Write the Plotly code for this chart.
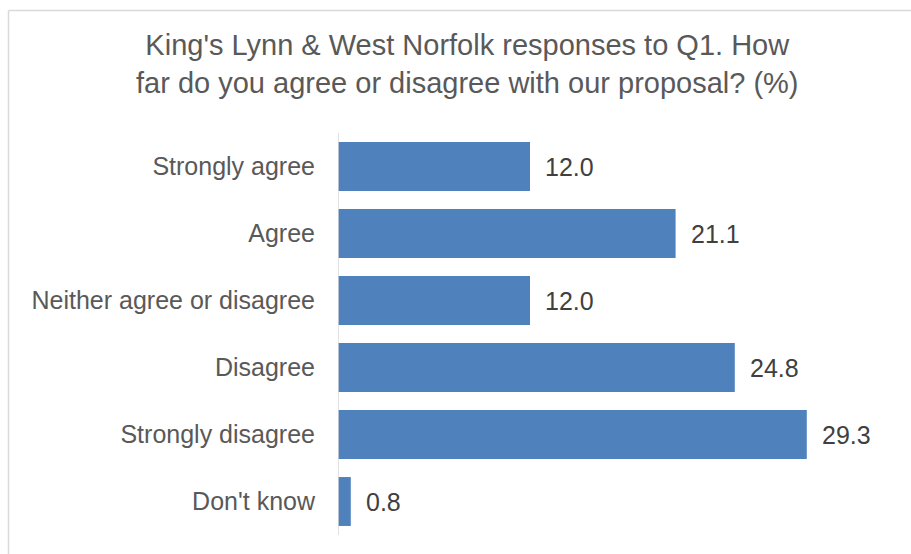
import plotly.graph_objects as go

categories = ["Strongly agree", "Agree", "Neither agree or disagree", "Disagree", "Strongly disagree", "Don't know"]
values = [12.0, 21.1, 12.0, 24.8, 29.3, 0.8]
title_text = "King's Lynn & West Norfolk responses to Q1. How<br>far do you agree or disagree with our proposal? (%)"

W, H = 911, 554
L, R, T, B = 338, 13, 133, 19
xmax = 35.0
FONT = "Liberation Sans, Arial, sans-serif"

fig = go.Figure(go.Bar(
    y=categories, x=values, orientation="h",
    marker=dict(color="#4F81BD", line=dict(width=0)),
    width=0.73,
    hoverinfo="skip",
))

pw = W - L - R
ph = H - T - B
def px_to_paper_x(px):
    return (px - L) / pw
def py_to_paper_y(py):
    return (H - B - py) / ph

annotations = []
for c, v in zip(categories, values):
    annotations.append(dict(x=v, y=c, xref="x", yref="y", text=f"{v:.1f}",
                            showarrow=False, xanchor="left", yanchor="middle",
                            xshift=13, font=dict(family=FONT, size=25, color="#404040")))

annotations.append(dict(x=px_to_paper_x(467), y=py_to_paper_y(27), xref="paper", yref="paper",
                        text=title_text, showarrow=False, xanchor="center", yanchor="top",
                        align="center", font=dict(family=FONT, size=29, color="#595959")))

shapes = [
    dict(type="line", xref="paper", yref="paper",
         x0=px_to_paper_x(8.5), x1=px_to_paper_x(8.5), y0=py_to_paper_y(10.5), y1=py_to_paper_y(560),
         line=dict(color="#D9D9D9", width=1.5)),
    dict(type="line", xref="paper", yref="paper",
         x0=px_to_paper_x(8.5), x1=px_to_paper_x(920), y0=py_to_paper_y(10.5), y1=py_to_paper_y(10.5),
         line=dict(color="#D9D9D9", width=1.5)),
    dict(type="line", xref="x", yref="paper", x0=0, x1=0, y0=0, y1=1,
         line=dict(color="#D9D9D9", width=1.5)),
]

fig.update_layout(
    width=W, height=H,
    margin=dict(l=L, r=R, t=T, b=B, autoexpand=False),
    paper_bgcolor="white", plot_bgcolor="white",
    showlegend=False,
    xaxis=dict(range=[0, xmax], visible=False, fixedrange=True),
    yaxis=dict(autorange="reversed", showgrid=False, zeroline=False,
               showline=False, ticks="", ticklabelstandoff=22,
               tickfont=dict(family=FONT, size=25, color="#595959")),
    annotations=annotations,
    shapes=shapes,
    bargap=0.27,
)

fig.write_html("out.html")
